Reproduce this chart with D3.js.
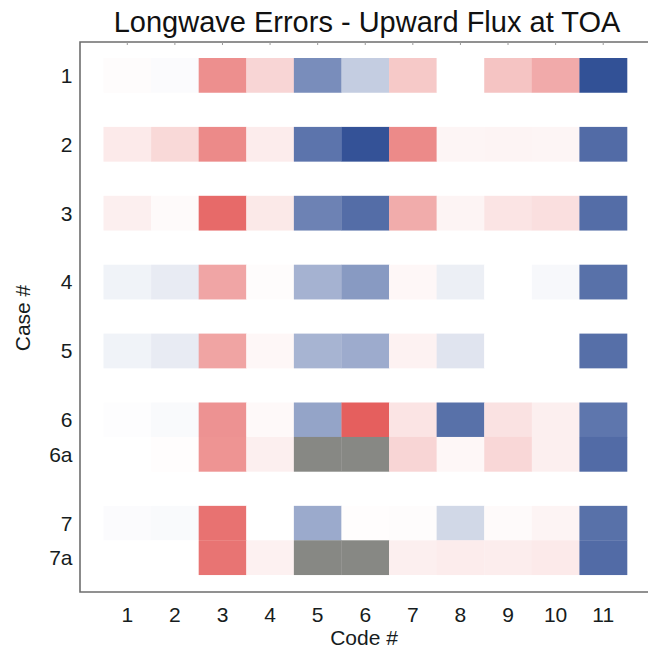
<!DOCTYPE html>
<html>
<head>
<meta charset="utf-8">
<script src="https://cdn.jsdelivr.net/npm/d3@7"></script>
<style>
  html, body { margin: 0; padding: 0; background: #ffffff; }
  svg { display: block; font-family: "Liberation Sans", Arial, Helvetica, sans-serif; }
</style>
</head>
<body>
<svg id="chart" width="648" height="651"></svg>
<script>
// Radiation code comparison: longwave upward flux error at TOA (normalized),
// one row per case, one column per code. null = no result for that case/code.
const codes = ["1", "2", "3", "4", "5", "6", "7", "8", "9", "10", "11"];
const cases = ["1", "2", "3", "4", "5", "6", "6a", "7", "7a"];
// vertical slot of each case row (spacer slots separate the case groups)
const caseSlots = [0, 2, 4, 6, 8, 10, 11, 13, 14];

const errCase1  = [ 0.02, -0.02, 0.70, 0.26, -0.64, -0.28, 0.34, 0.00,  0.37,  0.53, -0.98];
const errCase2  = [ 0.13,  0.24, 0.73, 0.12, -0.78, -0.97, 0.73, 0.06,  0.07,  0.06, -0.83];
const errCase3  = [ 0.10,  0.03, 0.93, 0.14, -0.70, -0.82, 0.52, 0.07,  0.17,  0.20, -0.82];
const errCase4  = [-0.07, -0.11, 0.56, 0.02, -0.43, -0.57, 0.05, -0.09, 0.00, -0.04, -0.80];
const errCase5  = [-0.07, -0.11, 0.57, 0.05, -0.42, -0.47, 0.08, -0.15, 0.00,  0.00, -0.81];
const errCase6  = [-0.01, -0.03, 0.68, 0.04, -0.51,  1.00, 0.17, -0.80, 0.18,  0.10, -0.77];
const errCase6a = [ 0.00,  0.01, 0.67, 0.10,  null,  null, 0.26, 0.05,  0.25,  0.10, -0.83];
const errCase7  = [-0.02, -0.03, 0.88, 0.00, -0.48,  0.01, 0.02, -0.22, 0.03,  0.07, -0.80];
const errCase7a = [ 0.00,  0.00, 0.87, 0.09,  null,  null, 0.10, 0.12,  0.11,  0.13, -0.83];

const errors = [errCase1, errCase2, errCase3, errCase4, errCase5,
                errCase6, errCase6a, errCase7, errCase7a];

const titleText = "Longwave Errors - Upward Flux at TOA";
const xTitle = "Code #";
const yTitle = "Case #";

const svg = d3.select("#chart");

const frame = { left: 80, top: 42, bottom: 592, right: 660 };
const labelColor = "#161c20";
const labelSize = 21;

const x = d3.scaleBand().domain(codes).range([103.5, 627]).padding(0);
const y = d3.scaleLinear().domain([0, 15]).range([58, 574.75]);
const slotH = y(1) - y(0);

const color = d3.scaleLinear()
  .domain([-1, 0, 1])
  .range(["#2e4d94", "#ffffff", "#e55f5e"])
  .interpolate(d3.interpolateRgb)
  .clamp(true);
const missingColor = "#878884";

// flatten into cells
const cells = [];
cases.forEach((c, i) => {
  errors[i].forEach((v, j) => {
    cells.push({ caseLabel: c, slot: caseSlots[i], code: codes[j], value: v });
  });
});

svg.append("g")
  .selectAll("rect")
  .data(cells)
  .join("rect")
  .attr("x", d => x(d.code))
  .attr("y", d => y(d.slot))
  .attr("width", x.bandwidth() + 0.3)
  .attr("height", slotH + 0.3)
  .attr("fill", d => d.value === null ? missingColor : color(d.value));

// frame (open to the right edge)
svg.append("path")
  .attr("d", `M${frame.right},${frame.top}H${frame.left}V${frame.bottom}H${frame.right}`)
  .attr("fill", "none")
  .attr("stroke", "#6e6e6e")
  .attr("stroke-width", 1.6);

// small tick marks along the top edge at each code
svg.append("g")
  .selectAll("line")
  .data(codes)
  .join("line")
  .attr("x1", d => x(d) + x.bandwidth() / 2)
  .attr("x2", d => x(d) + x.bandwidth() / 2)
  .attr("y1", frame.top)
  .attr("y2", frame.top + 3)
  .attr("stroke", "#9a9a9a")
  .attr("stroke-width", 1);

// x tick labels
svg.append("g")
  .selectAll("text")
  .data(codes)
  .join("text")
  .attr("x", d => x(d) + x.bandwidth() / 2)
  .attr("y", 622)
  .attr("text-anchor", "middle")
  .attr("font-size", labelSize)
  .attr("fill", labelColor)
  .text(d => d);

// y tick labels
svg.append("g")
  .selectAll("text")
  .data(cases)
  .join("text")
  .attr("x", 72.5)
  .attr("y", (d, i) => y(caseSlots[i]) + slotH / 2)
  .attr("dy", "0.36em")
  .attr("text-anchor", "end")
  .attr("font-size", labelSize)
  .attr("fill", labelColor)
  .text(d => d);

// axis titles
svg.append("text")
  .attr("x", 364)
  .attr("y", 645)
  .attr("text-anchor", "middle")
  .attr("font-size", labelSize)
  .attr("fill", labelColor)
  .text(xTitle);

svg.append("text")
  .attr("transform", "translate(30,318) rotate(-90)")
  .attr("text-anchor", "middle")
  .attr("font-size", labelSize)
  .attr("fill", labelColor)
  .text(yTitle);

// chart title
svg.append("text")
  .attr("x", 367)
  .attr("y", 32)
  .attr("text-anchor", "middle")
  .attr("font-size", 29)
  .attr("fill", "#111111")
  .text(titleText);
</script>
</body>
</html>
